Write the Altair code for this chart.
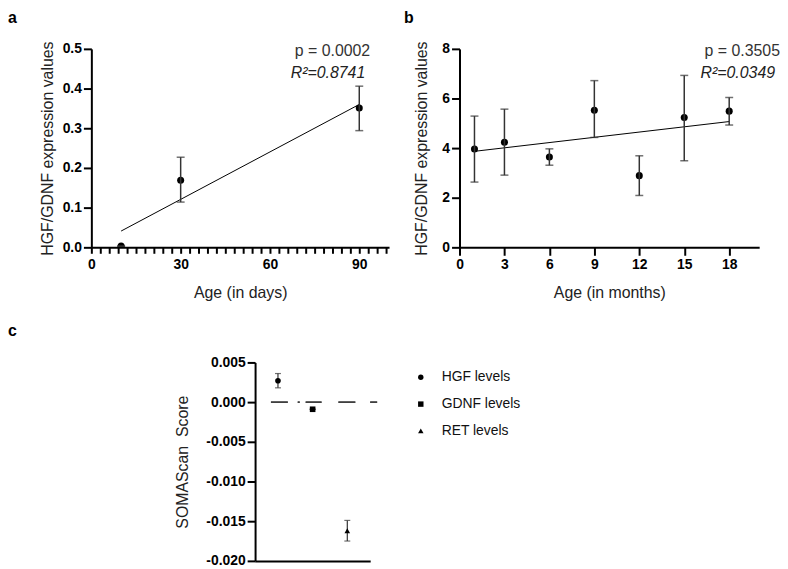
import altair as alt
import pandas as pd

FONT = "Liberation Sans, Arial, Helvetica, sans-serif"

# ---------- Panel a : HGF/GDNF vs age in days ----------
a_age = [10, 30, 90]
a_mean = [0.003, 0.169, 0.351]
a_low = [0.003, 0.114, 0.294]
a_high = [0.003, 0.227, 0.406]
a_fit_x = [10, 90]
a_fit_y = [0.041, 0.360]
a_xlabels = [0, 30, 60, 90]
a_xtick_values = [0, 3, 6, 9, 12, 15, 18, 21, 24, 27, 30, 33, 36, 39, 42, 45, 48,
                  51, 54, 57, 60, 63, 66, 69, 72, 75, 78, 81, 84, 87, 90, 93, 96, 99]
a_yticks = [0.0, 0.1, 0.2, 0.3, 0.4, 0.5]
a_stats = ["p = 0.0002", "R\u00b2=0.8741"]

# ---------- Panel b : HGF/GDNF vs age in months ----------
b_age = [1, 3, 6, 9, 12, 15, 18]
b_mean = [3.96, 4.24, 3.64, 5.53, 2.89, 5.23, 5.49]
b_low = [2.63, 2.91, 3.31, 4.43, 2.09, 3.49, 4.93]
b_high = [5.29, 5.57, 3.97, 6.72, 3.69, 6.93, 6.04]
b_fit_x = [1, 18]
b_fit_y = [3.87, 5.07]
b_xticks = [0, 3, 6, 9, 12, 15, 18]
b_yticks = [0, 2, 4, 6, 8]
b_stats = ["p = 0.3505", "R\u00b2=0.0349"]

# ---------- Panel c : SOMAScan scores ----------
c_names = ["HGF levels", "GDNF levels", "RET levels"]
c_mean = [0.0027, -0.0009, -0.0162]
c_low = [0.0018, -0.0009, -0.0175]
c_high = [0.0036, -0.0009, -0.0149]
c_yticks = [-0.020, -0.015, -0.010, -0.005, 0.000, 0.005]

ERR = "#333333"

axis_common = dict(
    domainColor="black", domainWidth=2, tickColor="black", tickWidth=2,
    labelFont=FONT, labelFontSize=14, labelFontWeight="bold",
    labelColor="black", titleFont=FONT, titleFontSize=16,
    titleFontWeight="normal", titleColor="#222222", grid=False,
)


def scatter_panel(ages, means, lows, highs, fx, fy, stats, letter,
                  xscale, yscale, xaxis, yaxis, text_x, letter_x, w, h):
    pts = pd.DataFrame({"x": ages, "y": means, "lo": lows, "hi": highs})
    fit = pd.DataFrame({"x": fx, "y": fy})
    X = alt.X("x:Q", scale=xscale, axis=xaxis)
    Y = alt.Y("y:Q", scale=yscale, axis=yaxis)
    dots = alt.Chart(pts).mark_circle(size=50, color="black", opacity=1,
                                      clip=True).encode(x=X, y=Y)
    fit_l = alt.Chart(fit).mark_line(color="black", strokeWidth=1).encode(x=X, y=Y)
    rule = alt.Chart(pts).mark_rule(color=ERR, strokeWidth=1.5).encode(
        x=X, y=alt.Y("lo:Q", scale=yscale, axis=yaxis), y2="hi:Q")
    cap_lo = alt.Chart(pts).mark_tick(orient="horizontal", size=8, thickness=1.5,
                                      color=ERR).encode(
        x=X, y=alt.Y("lo:Q", scale=yscale, axis=yaxis))
    cap_hi = alt.Chart(pts).mark_tick(orient="horizontal", size=8, thickness=1.5,
                                      color=ERR).encode(
        x=X, y=alt.Y("hi:Q", scale=yscale, axis=yaxis))
    t_p = alt.Chart(pd.DataFrame({"t": [stats[0]]})).mark_text(
        align="right", baseline="alphabetic", font=FONT, fontSize=16,
        color="#333333").encode(x=alt.value(text_x), y=alt.value(7), text="t:N")
    t_r = alt.Chart(pd.DataFrame({"t": [stats[1]]})).mark_text(
        align="right", baseline="alphabetic", font=FONT, fontSize=16,
        fontStyle="italic", color="#222222").encode(
        x=alt.value(text_x - 5), y=alt.value(29), text="t:N")
    lab = alt.Chart(pd.DataFrame({"t": [letter]})).mark_text(
        align="left", baseline="top", font=FONT, fontSize=16,
        fontWeight="bold", color="black").encode(
        x=alt.value(letter_x), y=alt.value(-39), text="t:N")
    return alt.layer(dots, fit_l, rule, cap_lo, cap_hi, t_p, t_r, lab).properties(
        width=w, height=h)


a_label_test = " || ".join("datum.value === %d" % v for v in a_xlabels)

panel_a = scatter_panel(
    a_age, a_mean, a_low, a_high, a_fit_x, a_fit_y, a_stats, "a",
    alt.Scale(domain=[0, 100], nice=False, zero=False),
    alt.Scale(domain=[0, 0.5], nice=False),
    alt.Axis(values=a_xtick_values, title="Age (in days)", labelFlush=False,
             labelOverlap=False, tickSize=6, labelPadding=4,
             labelExpr="(%s) ? datum.label : ''" % a_label_test,
             titlePadding=14, **axis_common),
    alt.Axis(values=a_yticks, format=".1f", title="HGF/GDNF expression values",
             titlePadding=7, tickSize=8, labelPadding=2, **axis_common),
    281, -84, 300, 200)

panel_b = scatter_panel(
    b_age, b_mean, b_low, b_high, b_fit_x, b_fit_y, b_stats, "b",
    alt.Scale(domain=[0, 20], nice=False, zero=False),
    alt.Scale(domain=[0, 8], nice=False),
    alt.Axis(values=b_xticks, title="Age (in months)", labelFlush=False,
             titlePadding=14, tickSize=8, labelPadding=2, **axis_common),
    alt.Axis(values=b_yticks, format="d", title="HGF/GDNF expression values",
             titlePadding=12, tickSize=8, labelPadding=2, **axis_common),
    323, -56, 302, 200)

# ---------- Panel c ----------
cdf = pd.DataFrame({"name": c_names, "y": c_mean, "lo": c_low, "hi": c_high})
c_xscale = alt.Scale(type="point", padding=0.66)
c_yscale = alt.Scale(domain=[-0.020, 0.005], nice=False, zero=False)
c_xaxis = alt.Axis(labels=False, ticks=False, title=None, domainColor="black",
                   domainWidth=2, grid=False)
c_yaxis = alt.Axis(values=c_yticks, title="SOMAScan\u00a0 Score", titlePadding=15,
                   tickSize=8, labelPadding=2,
                   labelExpr="datum.value < 0 ? '-' + format(-datum.value, '.3f') : format(datum.value, '.3f')",
                   **axis_common)
CX = alt.X("name:N", sort=c_names, scale=c_xscale, axis=c_xaxis)

zero_line = alt.Chart(cdf).mark_rule(
    color="#333333", strokeWidth=1,
    strokeDash=[17, 10, 2, 6, 16, 17, 17, 15, 8, 60]).encode(
    y=alt.datum(0, scale=c_yscale, axis=c_yaxis), x=alt.value(16), x2=alt.value(123))
c_rule = alt.Chart(cdf).mark_rule(color=ERR, strokeWidth=1.2).encode(
    x=CX, y=alt.Y("lo:Q", scale=c_yscale, axis=c_yaxis), y2="hi:Q")
c_cap_lo = alt.Chart(cdf).mark_tick(orient="horizontal", size=6, thickness=1.2,
                                    color=ERR).encode(
    x=CX, y=alt.Y("lo:Q", scale=c_yscale, axis=c_yaxis))
c_cap_hi = alt.Chart(cdf).mark_tick(orient="horizontal", size=6, thickness=1.2,
                                    color=ERR).encode(
    x=CX, y=alt.Y("hi:Q", scale=c_yscale, axis=c_yaxis))
c_pts = alt.Chart(cdf).mark_point(filled=True, size=32, opacity=1,
                                  color="black").encode(
    x=CX, y=alt.Y("y:Q", scale=c_yscale, axis=c_yaxis),
    shape=alt.Shape("name:N", sort=c_names,
                    scale=alt.Scale(domain=c_names,
                                    range=["circle", "square", "triangle-up"]),
                    legend=alt.Legend(title=None, orient="none", legendX=160,
                                      legendY=8, labelFont=FONT, labelFontSize=14,
                                      labelColor="#111111", labelOffset=14,
                                      rowPadding=13, symbolSize=30,
                                      symbolFillColor="black",
                                      symbolStrokeColor="black", padding=0)))
panel_c = alt.layer(zero_line, c_rule, c_cap_lo, c_cap_hi, c_pts).properties(
    width=116, height=200)

spacer = alt.Chart(pd.DataFrame({"t": ["c"]})).mark_text(
    align="left", baseline="top", font=FONT, fontSize=16, fontWeight="bold",
    color="black").encode(x=alt.value(-84), y=alt.value(-40), text="t:N").properties(
    width=94, height=200)

top_row = alt.hconcat(panel_a, panel_b, spacing=71, bounds="flush")
bottom_row = alt.hconcat(spacer, panel_c, spacing=71, bounds="flush").resolve_legend(
    shape="independent")

chart = alt.vconcat(top_row, bottom_row, spacing=316, bounds="flush").resolve_legend(
    shape="independent").properties(padding=0, background="white").configure_view(
    stroke=None)

chart.save("out.html", embed_options={"renderer": "svg", "actions": False})
